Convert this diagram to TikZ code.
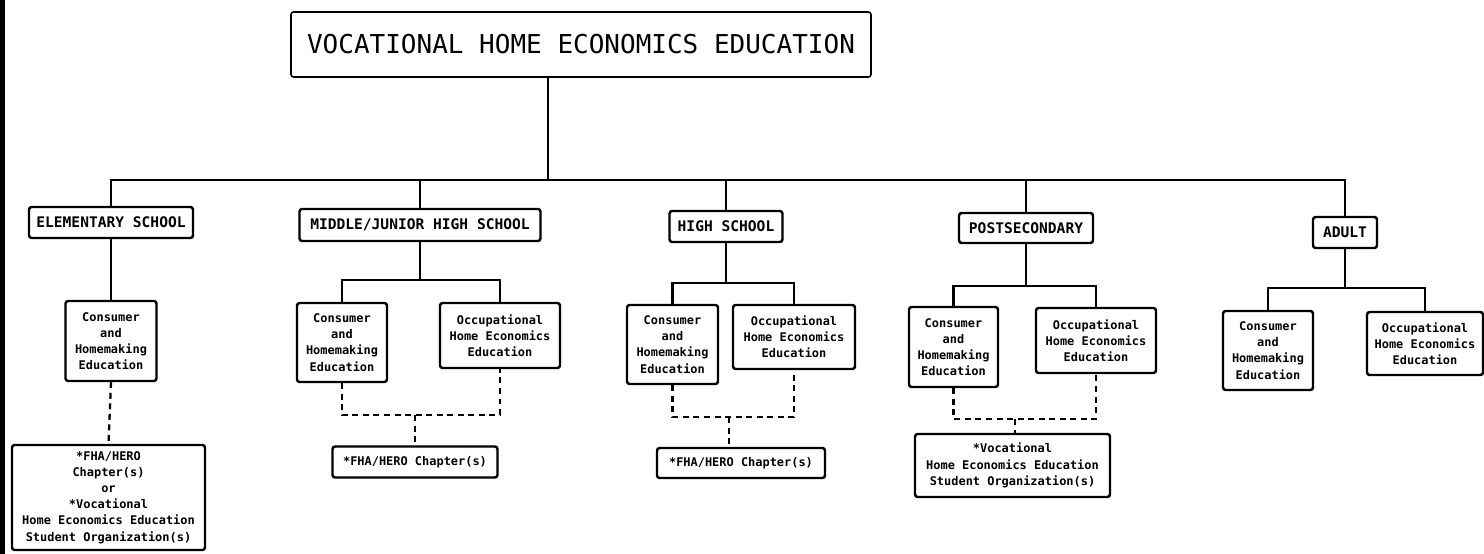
\documentclass[tikz,border=0pt]{standalone}
\usepackage{fontspec}
\setmonofont{DejaVu Sans Mono}
\tikzset{
  box/.style={draw,line width=1.4pt,rounded corners=1.5pt,inner sep=0pt,align=center,
    font=\ttfamily\bfseries\fontsize{6.8}{9.2}\selectfont},
  stage/.style={box,font=\ttfamily\bfseries\fontsize{8.3}{10}\selectfont},
  sz/.style 2 args={minimum width=#1*0.02cm,minimum height=#2*0.02cm},
  link/.style={line width=1.3pt},
  linkdash/.style={line width=1.3pt,dash pattern=on 3.4pt off 2.6pt}
}
\begin{document}
\begin{tikzpicture}[x=0.02cm,y=-0.02cm]
  \useasboundingbox (0,0) rectangle (1484,554);
  \fill (0,0) rectangle (5,554);
  % top box
  \node[draw,line width=0.9pt,rounded corners=1.5pt,inner sep=0pt,sz={580}{65},
    font=\ttfamily\fontsize{14.8}{16}\selectfont] (voc) at (581,44.5)
    {VOCATIONAL HOME ECONOMICS EDUCATION};
  \coordinate (hub) at (548,180);

  % levels
  \node[stage,sz={164}{31}] (elem) at (111,222.5) {ELEMENTARY SCHOOL};
  \node[stage,sz={241}{32}] (mid) at (420,225) {MIDDLE/JUNIOR HIGH SCHOOL};
  \node[stage,sz={113}{31}] (high) at (726,226.5) {HIGH SCHOOL};
  \node[stage,sz={134}{30}] (post) at (1026,228) {POSTSECONDARY};
  \node[stage,sz={64}{31}] (adult) at (1345,232.5) {ADULT};

  \draw[line width=0.9pt] (voc.south -| hub) -- (hub);
  \draw[line width=1.1pt] (elem.north) |- (hub) -| (adult.north);
  \foreach \n in {mid,high,post}
    \draw[line width=1.1pt] (\n.north) -- (\n.north |- hub);

  % programs
  \node[box,sz={91}{80}] (econ) at (111,341) {Consumer\\and\\Homemaking\\Education};
  \node[box,sz={90}{79}] (mcon) at (342,342.5) {Consumer\\and\\Homemaking\\Education};
  \node[box,sz={120}{65}] (mocc) at (500,335.5) {Occupational\\Home Economics\\Education};
  \node[box,sz={91}{79}] (hcon) at (672.5,344.5) {Consumer\\and\\Homemaking\\Education};
  \node[box,sz={122}{64}] (hocc) at (794,337) {Occupational\\Home Economics\\Education};
  \node[box,sz={89}{80}] (pcon) at (953.5,347) {Consumer\\and\\Homemaking\\Education};
  \node[box,sz={120}{65}] (pocc) at (1096,340.5) {Occupational\\Home Economics\\Education};
  \node[box,sz={90}{79}] (acon) at (1268,350.5) {Consumer\\and\\Homemaking\\Education};
  \node[box,sz={116}{63}] (aocc) at (1425,343.5) {Occupational\\Home Economics\\Education};

  \coordinate (mjoin) at (420,280);
  \coordinate (hjoin) at (726,283);
  \coordinate (pjoin) at (1026,286);
  \coordinate (ajoin) at (1345,288);
  \draw[link] (elem.south) -- (econ.north);
  \draw[link] (mid.south) -- (mjoin);
  \draw[link] (mcon.north) |- (mjoin) -| (mocc.north);
  \draw[link] (high.south) -- (hjoin);
  \draw[link] (hcon.north) |- (hjoin) -| (hocc.north);
  \draw[link] (post.south) -- (pjoin);
  \draw[link] (pcon.north) |- (pjoin) -| (pocc.north);
  \draw[link] (adult.south) -- (ajoin);
  \draw[link] (acon.north) |- (ajoin) -| (aocc.north);

  % student organizations
  \node[box,sz={193}{105}] (efha) at (108.5,497.5)
    {*FHA/HERO\\Chapter(s)\\or\\*Vocational\\Home Economics Education\\Student Organization(s)};
  \node[box,sz={165}{31}] (mfha) at (415,462) {*FHA/HERO Chapter(s)};
  \node[box,sz={168}{30}] (hfha) at (741,463) {*FHA/HERO Chapter(s)};
  \node[box,sz={195}{63}] (pvoc) at (1012.5,465.5)
    {*Vocational\\Home Economics Education\\Student Organization(s)};

  \coordinate (mdash) at (415,415);
  \coordinate (hdash) at (729,417);
  \coordinate (pdash) at (1015,419);
  \draw[linkdash] (econ.south) -- (efha.north);
  \draw[linkdash] (mcon.south) |- (mdash) -| (mocc.south);
  \draw[linkdash] (mdash) -- (mfha.north);
  \draw[linkdash] (hcon.south) |- (hdash) -| (hocc.south);
  \draw[linkdash] (hdash) -- (hdash |- hfha.north);
  \draw[linkdash] (pcon.south) |- (pdash) -| (pocc.south);
  \draw[linkdash] (pdash) -- (pdash |- pvoc.north);
\end{tikzpicture}
\end{document}
